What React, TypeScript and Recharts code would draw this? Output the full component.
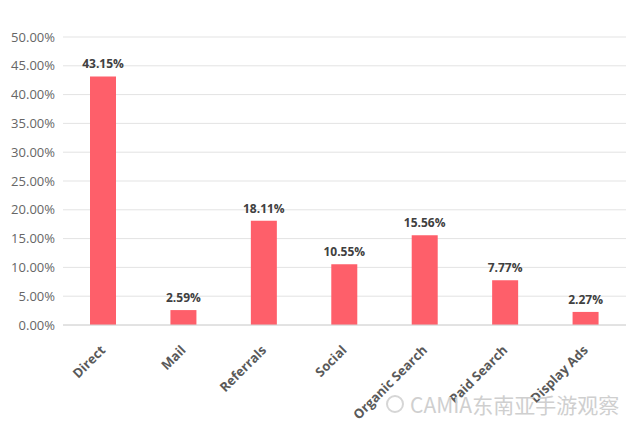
import React from 'react';
import { BarChart, Bar, XAxis, YAxis, CartesianGrid, LabelList } from 'recharts';

const channels = ['Direct', 'Mail', 'Referrals', 'Social', 'Organic Search', 'Paid Search', 'Display Ads'];
const shares = [43.15, 2.59, 18.11, 10.55, 15.56, 7.77, 2.27];
const yTicks = [0, 5, 10, 15, 20, 25, 30, 35, 40, 45, 50];

const chartData = channels.map((name, i) => ({ name, value: shares[i] }));

const FONT = '"Open Sans", "DejaVu Sans", sans-serif';

// rotated category labels, text ends just under the tick
const AngledTick = (props: any) => {
  const { x, y, payload } = props;
  const ax = x + 3;
  const ay = y + 18;
  return (
    <text
      x={ax}
      y={ay}
      transform={`rotate(-45, ${ax}, ${ay})`}
      textAnchor="end"
      fill="#595959"
      fontSize={13}
      fontWeight="bold"
      fontFamily={FONT}
    >
      {payload.value}
    </text>
  );
};

export default function App() {
  return (
    <div style={{ position: 'absolute', left: 0, top: 0, width: 640, height: 437, background: '#fff' }}>
      <BarChart
        width={640}
        height={437}
        data={chartData}
        margin={{ top: 37, right: 14, left: 0, bottom: 0 }}
        barCategoryGap="34%"
      >
        <CartesianGrid vertical={false} stroke="#e3e3e3" />
        <XAxis
          dataKey="name"
          interval={0}
          height={112}
          tickLine={false}
          axisLine={{ stroke: '#d4d4d4' }}
          tick={<AngledTick />}
        />
        <YAxis
          width={63}
          domain={[0, 50]}
          ticks={yTicks}
          tickLine={false}
          axisLine={false}
          tickFormatter={(v: number) => `${v.toFixed(2)}%`}
          tick={{ fill: '#666666', fontSize: 13, fontFamily: FONT }}
        />
        <Bar dataKey="value" fill="#fe5f6a" barSize={26} isAnimationActive={false}>
          <LabelList
            dataKey="value"
            position="top"
            offset={8}
            fill="#404040"
            fontSize={12}
            fontWeight="bold"
            fontFamily={FONT}
            formatter={(v: number) => `${v.toFixed(2)}%`}
          />
        </Bar>
      </BarChart>
      <div
        style={{
          position: 'absolute',
          left: 386,
          top: 392,
          display: 'flex',
          alignItems: 'center',
          gap: 6,
          color: '#cfcfcf',
          fontFamily: '"Noto Sans CJK SC", sans-serif',
          fontSize: 21,
          lineHeight: '24px',
          whiteSpace: 'nowrap',
        }}
      >
        <span
          style={{
            display: 'inline-block',
            width: 14,
            height: 14,
            borderRadius: '50%',
            border: '2px solid #d6d6d6',
          }}
        />
        <span>CAMIA东南亚手游观察</span>
      </div>
    </div>
  );
}
